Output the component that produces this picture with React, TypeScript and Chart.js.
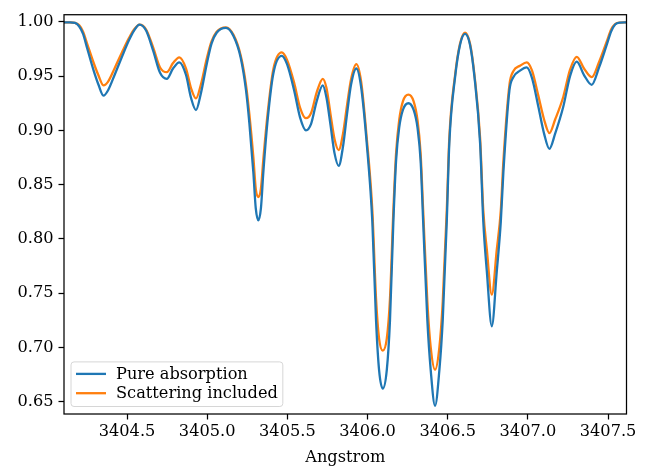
import React, { useEffect, useRef } from "react";
import { Chart, registerables } from "chart.js";

Chart.register(...registerables);

// Wavelength grid (Angstrom)
const wavelengths = [
  3404.107, 3404.144, 3404.176, 3404.201, 3404.226, 3404.251, 3404.290, 3404.321, 3404.353, 3404.382,
  3404.425, 3404.469, 3404.512, 3404.544, 3404.578, 3404.619, 3404.664, 3404.706, 3404.748, 3404.787,
  3404.826, 3404.868, 3404.899, 3404.930, 3404.962, 3404.997, 3405.027, 3405.059, 3405.117, 3405.164,
  3405.209, 3405.242, 3405.263, 3405.288, 3405.303, 3405.319, 3405.335, 3405.350, 3405.375, 3405.412,
  3405.465, 3405.498, 3405.542, 3405.579, 3405.616, 3405.648, 3405.683, 3405.721, 3405.744, 3405.769,
  3405.794, 3405.820, 3405.847, 3405.872, 3405.897, 3405.930, 3405.960, 3405.995, 3406.030, 3406.053,
  3406.072, 3406.095, 3406.120, 3406.140, 3406.161, 3406.178, 3406.197, 3406.221, 3406.255, 3406.287,
  3406.312, 3406.331, 3406.347, 3406.373, 3406.394, 3406.421, 3406.448, 3406.469, 3406.494, 3406.510,
  3406.546, 3406.577, 3406.608, 3406.639, 3406.667, 3406.702, 3406.722, 3406.744, 3406.775, 3406.806,
  3406.831, 3406.847, 3406.885, 3406.909, 3406.951, 3406.993, 3407.026, 3407.065, 3407.101, 3407.134,
  3407.170, 3407.221, 3407.263, 3407.305, 3407.350, 3407.398, 3407.444, 3407.492, 3407.519, 3407.544,
  3407.575, 3407.615,
];

const pureAbsorption = [
  0.9995, 0.9995, 0.999, 0.996, 0.989, 0.976, 0.956, 0.9425, 0.932, 0.937,
  0.952, 0.968, 0.983, 0.992, 0.9975, 0.992, 0.973, 0.953, 0.9475, 0.957,
  0.9627, 0.951, 0.93, 0.9187, 0.935, 0.961, 0.98, 0.99, 0.9945, 0.987,
  0.967, 0.937, 0.9066, 0.861, 0.828, 0.817, 0.828, 0.861, 0.9066, 0.952,
  0.9687, 0.961, 0.937, 0.912, 0.9, 0.906, 0.927, 0.9415, 0.93, 0.905,
  0.879, 0.8673, 0.885, 0.915, 0.942, 0.957, 0.94, 0.888, 0.8155, 0.7248,
  0.679, 0.662, 0.679, 0.7248, 0.8155, 0.872, 0.902, 0.919, 0.925, 0.919,
  0.902, 0.872, 0.8155, 0.725, 0.679, 0.646, 0.679, 0.725, 0.8155, 0.888,
  0.949, 0.979, 0.989, 0.979, 0.949, 0.888, 0.8155, 0.77, 0.7194, 0.77,
  0.8155, 0.861, 0.937, 0.949, 0.955, 0.958, 0.948, 0.922, 0.897, 0.883,
  0.897, 0.922, 0.95, 0.9633, 0.951, 0.942, 0.958, 0.979, 0.991, 0.9975,
  0.9993, 0.9995,
];

const scatteringIncluded = [
  0.9995, 0.9995, 0.999, 0.997, 0.991, 0.98, 0.963, 0.951, 0.9415, 0.945,
  0.958, 0.972, 0.985, 0.993, 0.9975, 0.993, 0.976, 0.958, 0.9536, 0.962,
  0.9673, 0.957, 0.939, 0.9294, 0.943, 0.966, 0.982, 0.991, 0.995, 0.988,
  0.969, 0.942, 0.915, 0.875, 0.846, 0.8385, 0.846, 0.873, 0.913, 0.956,
  0.9718, 0.965, 0.944, 0.921, 0.9112, 0.916, 0.935, 0.9475, 0.939, 0.915,
  0.892, 0.8818, 0.897, 0.923, 0.947, 0.961, 0.945, 0.893, 0.826, 0.745,
  0.708, 0.697, 0.708, 0.745, 0.826, 0.879, 0.909, 0.927, 0.933, 0.927,
  0.909, 0.879, 0.826, 0.742, 0.7, 0.6794, 0.7, 0.742, 0.826, 0.893,
  0.951, 0.98, 0.99, 0.98, 0.951, 0.893, 0.826, 0.79, 0.7485, 0.79,
  0.826, 0.871, 0.942, 0.9545, 0.9595, 0.9627, 0.955, 0.932, 0.91, 0.8975,
  0.91, 0.931, 0.956, 0.9678, 0.957, 0.949, 0.963, 0.982, 0.993, 0.998,
  0.9993, 0.9995,
];

const seriesLabels = ["Pure absorption", "Scattering included"];
const xTicks = [3404.5, 3405.0, 3405.5, 3406.0, 3406.5, 3407.0, 3407.5];
const yTicks = [0.65, 0.7, 0.75, 0.8, 0.85, 0.9, 0.95, 1.0];
const xAxisTitle = "Angstrom";

const FONT = "DejaVu Serif";
const FONT_SIZE = 16.2;

const framePlugin = {
  id: "frame",
  afterDatasetsDraw(chart: any) {
    const { ctx, chartArea } = chart;
    ctx.save();
    ctx.strokeStyle = "#000";
    ctx.lineWidth = 1.25;
    ctx.strokeRect(chartArea.left, chartArea.top, chartArea.right - chartArea.left, chartArea.bottom - chartArea.top);
    ctx.restore();
  },
};

const legendPlugin = {
  id: "mplLegend",
  afterDraw(chart: any) {
    const { ctx, chartArea } = chart;
    ctx.save();
    ctx.font = `${FONT_SIZE}px "${FONT}"`;
    const labels = chart.data.datasets.map((d: any) => d.label);
    const maxW = Math.max(...labels.map((l: string) => ctx.measureText(l).width));
    const rowH = 19.3;
    const x0 = chartArea.left + 7;
    const y1 = chartArea.bottom - 7.5;
    const h = rowH * labels.length + 6;
    const y0 = y1 - h;
    const textX = x0 + 45;
    const x1 = textX + maxW + 5;
    const r = 3;
    ctx.beginPath();
    ctx.moveTo(x0 + r, y0);
    ctx.lineTo(x1 - r, y0);
    ctx.quadraticCurveTo(x1, y0, x1, y0 + r);
    ctx.lineTo(x1, y1 - r);
    ctx.quadraticCurveTo(x1, y1, x1 - r, y1);
    ctx.lineTo(x0 + r, y1);
    ctx.quadraticCurveTo(x0, y1, x0, y1 - r);
    ctx.lineTo(x0, y0 + r);
    ctx.quadraticCurveTo(x0, y0, x0 + r, y0);
    ctx.closePath();
    ctx.fillStyle = "rgba(255,255,255,0.8)";
    ctx.fill();
    ctx.strokeStyle = "#d6d6d6";
    ctx.lineWidth = 1;
    ctx.stroke();
    chart.data.datasets.forEach((d: any, i: number) => {
      const y = y0 + 12 + i * rowH;
      ctx.strokeStyle = d.borderColor;
      ctx.lineWidth = 2.3;
      ctx.beginPath();
      ctx.moveTo(x0 + 5, y);
      ctx.lineTo(x0 + 35, y);
      ctx.stroke();
      ctx.fillStyle = "#000";
      ctx.textBaseline = "middle";
      ctx.textAlign = "left";
      ctx.fillText(d.label, textX, y + 1);
    });
    ctx.restore();
  },
};

export default function App() {
  const ref = useRef<HTMLCanvasElement | null>(null);
  useEffect(() => {
    document.body.style.margin = "0";
    if (!ref.current) return;
    const mk = (vals: number[]) => wavelengths.map((x, i) => ({ x, y: vals[i] }));
    const chart = new Chart(ref.current, {
      type: "line",
      data: {
        datasets: [
          {
            label: seriesLabels[0],
            data: mk(pureAbsorption),
            borderColor: "#1f77b4",
            borderWidth: 2.3,
            pointRadius: 0,
            cubicInterpolationMode: "monotone",
          },
          {
            label: seriesLabels[1],
            data: mk(scatteringIncluded),
            borderColor: "#ff7f0e",
            borderWidth: 2.3,
            pointRadius: 0,
            cubicInterpolationMode: "monotone",
          },
        ],
      },
      options: {
        animation: false,
        responsive: false,
        layout: { padding: { left: 0, top: 10, right: 21.5, bottom: 0 } },
        plugins: { legend: { display: false }, tooltip: { enabled: false } },
        scales: {
          x: {
            type: "linear",
            min: 3404.107,
            max: 3407.615,
            afterBuildTicks: (s: any) => { s.ticks = xTicks.map((v) => ({ value: v })); },
            afterFit: (s: any) => { s.height = 52; },
            border: { display: false },
            grid: { drawOnChartArea: false, drawTicks: true, tickLength: 5.5, tickWidth: 1.25, tickColor: "#000" },
            ticks: {
              color: "#000",
              padding: 3,
              maxRotation: 0,
              autoSkip: false,
              font: { family: FONT, size: FONT_SIZE },
              callback: (v: any) => Number(v).toFixed(1),
            },
            title: {
              display: true,
              text: xAxisTitle,
              color: "#000",
              padding: { top: 0, bottom: -2 },
              font: { family: FONT, size: FONT_SIZE },
            },
          },
          y: {
            type: "linear",
            min: 0.6385,
            max: 1.0066,
            afterBuildTicks: (s: any) => { s.ticks = yTicks.map((v) => ({ value: v })); },
            afterFit: (s: any) => { s.width = 64; },
            border: { display: false },
            grid: { drawOnChartArea: false, drawTicks: true, tickLength: 5.5, tickWidth: 1.25, tickColor: "#000" },
            ticks: {
              color: "#000",
              padding: 5,
              autoSkip: false,
              font: { family: FONT, size: FONT_SIZE },
              callback: (v: any) => Number(v).toFixed(2),
            },
          },
        },
      },
      plugins: [framePlugin, legendPlugin],
    } as any);
    return () => chart.destroy();
  }, []);
  return (
    <div style={{ width: 648, height: 466 }}>
      <canvas ref={ref} width={648} height={466} style={{ display: "block" }} />
    </div>
  );
}
